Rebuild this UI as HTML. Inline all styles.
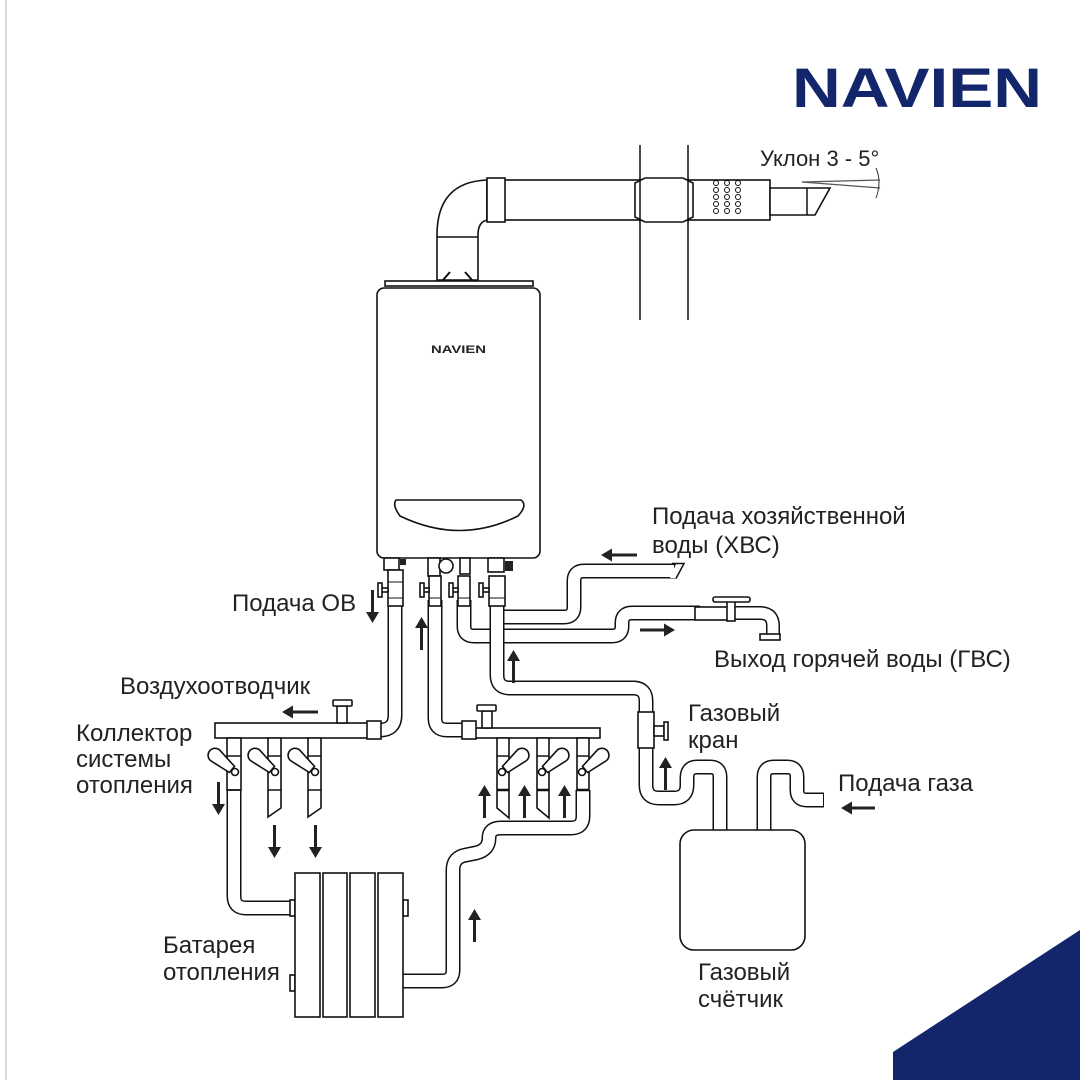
<!DOCTYPE html>
<html><head><meta charset="utf-8"><style>
html,body{margin:0;padding:0;background:#fff}
svg{display:block}
text{font-family:"Liberation Sans",sans-serif;fill:#222}
.po{fill:none;stroke:#111;stroke-width:15;stroke-linejoin:round}
.pi{fill:none;stroke:#fff;stroke-width:12;stroke-linejoin:round}
.l{fill:#fff;stroke:#111;stroke-width:1.6}
.ar{fill:#222}
</style></head><body>
<svg width="1080" height="1080" viewBox="0 0 1080 1080" xmlns="http://www.w3.org/2000/svg">
<line x1="6" y1="0" x2="6" y2="1080" stroke="#ccc" stroke-width="1.5"/>
<polygon points="1080,930 1080,1080 893,1080 893,1052" fill="#13266b"/>
<text x="792" y="107" font-size="56" font-weight="bold" style="fill:#13266b" textLength="250" lengthAdjust="spacingAndGlyphs">NAVIEN</text>

<!-- chimney -->
<line x1="640" y1="145" x2="640" y2="320" stroke="#111" stroke-width="1.5"/>
<line x1="688" y1="145" x2="688" y2="320" stroke="#111" stroke-width="1.5"/>
<path class="l" d="M437,280 L437,235 Q437,182 487,180 L487,220 Q478,222 478,235 L478,280 Z"/>
<line x1="437" y1="237" x2="478" y2="237" stroke="#111" stroke-width="1.5"/>
<rect class="l" x="487" y="180" width="283" height="40"/>
<rect class="l" x="487" y="178" width="18" height="44"/>
<path class="l" d="M635,183 L645,178 L683,178 L693,183 L693,217 L683,222 L645,222 L635,217 Z"/>
<line x1="640" y1="178" x2="640" y2="222" stroke="#111" stroke-width="1.5"/>
<line x1="688" y1="178" x2="688" y2="222" stroke="#111" stroke-width="1.5"/>
<g fill="none" stroke="#111" stroke-width="1">
<circle cx="716" cy="183" r="2.5"/><circle cx="727" cy="183" r="2.5"/><circle cx="738" cy="183" r="2.5"/>
<circle cx="716" cy="190" r="2.5"/><circle cx="727" cy="190" r="2.5"/><circle cx="738" cy="190" r="2.5"/>
<circle cx="716" cy="197" r="2.5"/><circle cx="727" cy="197" r="2.5"/><circle cx="738" cy="197" r="2.5"/>
<circle cx="716" cy="204" r="2.5"/><circle cx="727" cy="204" r="2.5"/><circle cx="738" cy="204" r="2.5"/>
<circle cx="716" cy="211" r="2.5"/><circle cx="727" cy="211" r="2.5"/><circle cx="738" cy="211" r="2.5"/>
<circle cx="787" cy="194" r="2"/><circle cx="792" cy="194" r="2"/><circle cx="787" cy="200" r="2"/><circle cx="792" cy="200" r="2"/><circle cx="787" cy="206" r="2"/><circle cx="792" cy="206" r="2"/>
</g>
<path class="l" d="M770,188 L830,188 L815,215 L770,215 Z"/>
<line x1="807" y1="188" x2="807" y2="215" stroke="#111" stroke-width="1.5"/>
<line x1="802" y1="182" x2="880" y2="180" stroke="#555" stroke-width="1.2"/>
<line x1="802" y1="182" x2="880" y2="188" stroke="#555" stroke-width="1.2"/>
<path d="M876,168 Q882,182 876,198" fill="none" stroke="#333" stroke-width="1"/>
<text x="760" y="166" font-size="22">Уклон 3 - 5°</text>

<!-- boiler -->
<path d="M443,280 L450,272 M472,280 L465,272" fill="none" stroke="#111" stroke-width="2"/>
<rect class="l" x="385" y="281" width="148" height="5"/>
<rect class="l" x="377" y="288" width="163" height="270" rx="7"/>
<text x="431" y="353" font-size="11" font-weight="bold" textLength="55" lengthAdjust="spacingAndGlyphs">NAVIEN</text>
<path class="l" d="M396,500 L521,500 Q528,505 518,516 Q460,545 400,516 Q392,505 396,500 Z"/>
<rect class="l" x="384" y="558" width="15" height="12"/>
<rect class="l" x="428" y="558" width="12" height="18"/>
<circle cx="446" cy="566" r="7" class="l"/>
<rect class="l" x="460" y="558" width="10" height="16"/>
<rect class="l" x="488" y="558" width="16" height="14"/>
<rect x="505" y="561" width="8" height="10" fill="#222"/>
<rect x="400" y="559" width="6" height="6" fill="#222"/>

<!-- pipes -->
<path class="po" d="M395,600 L395,715 Q395,730 380,730 L372,730"/><path class="pi" d="M395,600 L395,715 Q395,730 380,730 L372,730"/>
<path class="po" d="M435,600 L435,718 Q435,730 447,730 L462,730"/><path class="pi" d="M435,600 L435,718 Q435,730 447,730 L462,730"/>
<path class="po" d="M464,600 L464,626 Q464,636 474,636 L612,636 Q622,636 622,626 L622,623 Q622,613 632,613 L700,613"/><path class="pi" d="M464,600 L464,626 Q464,636 474,636 L612,636 Q622,636 622,626 L622,623 Q622,613 632,613 L700,613"/>
<path class="po" d="M500,617 L564,617 Q574,617 574,607 L574,581 Q574,571 584,571 L676,571"/><path class="pi" d="M500,617 L564,617 Q574,617 574,607 L574,581 Q574,571 584,571 L674,571"/>
<path class="po" d="M497,600 L497,675 Q497,688 510,688 L633,688 Q646,688 646,701 L646,785 Q646,798 659,798 L674,798 Q687,798 687,785 L687,778 Q687,767 697,767 L710,767 Q720,767 720,777 L720,832"/>
<path class="pi" d="M497,598 L497,675 Q497,688 510,688 L633,688 Q646,688 646,701 L646,785 Q646,798 659,798 L674,798 Q687,798 687,785 L687,778 Q687,767 697,767 L710,767 Q720,767 720,777 L720,834"/>
<path class="po" d="M764,832 L764,777 Q764,767 774,767 L787,767 Q797,767 797,777 L797,790 Q797,800 807,800 L824,800"/><path class="pi" d="M764,834 L764,777 Q764,767 774,767 L787,767 Q797,767 797,777 L797,790 Q797,800 807,800 L823,800"/>
<path class="po" d="M234,790 L234,896 Q234,908 246,908 L295,908"/><path class="pi" d="M234,788 L234,896 Q234,908 246,908 L297,908"/>
<path class="po" d="M403,981 L442,981 Q453,981 453,970 L453,870 Q453,857 466,855 L476,853 Q489,850 489,838 Q489,828 501,828 L571,828 Q583,828 583,816 L583,790"/>
<path class="pi" d="M401,981 L442,981 Q453,981 453,970 L453,870 Q453,857 466,855 L476,853 Q489,850 489,838 Q489,828 501,828 L571,828 Q583,828 583,816 L583,788"/>
<polygon points="676,564 684,564 676,578 670,578" fill="#fff"/>
<path d="M672,563.5 L684,563.5 L676,578.5" fill="none" stroke="#111" stroke-width="1.5"/>

<!-- boiler valves -->
<g>
<rect class="l" x="388" y="570" width="15" height="36"/>
<line x1="388" y1="582" x2="403" y2="582" stroke="#111"/><line x1="388" y1="598" x2="403" y2="598" stroke="#111"/>
<rect class="l" x="380" y="588" width="8" height="4"/><rect class="l" x="378" y="583" width="4" height="14"/>
<rect class="l" x="429" y="576" width="12" height="30"/>
<line x1="429" y1="598" x2="441" y2="598" stroke="#111"/>
<rect class="l" x="422" y="588" width="7" height="4"/><rect class="l" x="420" y="583" width="4" height="14"/>
<rect class="l" x="458" y="576" width="12" height="30"/>
<line x1="458" y1="598" x2="470" y2="598" stroke="#111"/>
<rect class="l" x="451" y="588" width="7" height="4"/><rect class="l" x="449" y="583" width="4" height="14"/>
<rect class="l" x="489" y="576" width="16" height="30"/>
<line x1="489" y1="598" x2="505" y2="598" stroke="#111"/>
<rect class="l" x="483" y="588" width="6" height="4"/><rect class="l" x="479" y="583" width="4" height="14"/>
</g>

<!-- faucet -->
<path d="M727,613 L760,613 Q773,613 773,626 L773,635" fill="none" stroke="#111" stroke-width="14"/>
<path d="M727,613 L760,613 Q773,613 773,626 L773,636" fill="none" stroke="#fff" stroke-width="11"/>
<rect class="l" x="695" y="607" width="33" height="13"/>
<rect class="l" x="727" y="601" width="8" height="20"/>
<rect class="l" x="713" y="597" width="37" height="5" rx="2"/>
<rect class="l" x="760" y="634" width="20" height="6"/>

<rect class="l" x="638" y="712" width="16" height="36"/>
<rect class="l" x="654" y="726" width="10" height="10"/>
<rect class="l" x="664" y="722" width="4" height="18"/>
<rect class="l" x="680" y="830" width="125" height="120" rx="14"/>

<!-- collectors -->
<rect class="l" x="215" y="723" width="160" height="15"/>
<rect class="l" x="367" y="721" width="14" height="18"/>
<rect class="l" x="337" y="706" width="10" height="17"/>
<rect class="l" x="333" y="700" width="19" height="6" rx="1"/>
<rect class="l" x="475" y="728" width="125" height="10"/>
<rect class="l" x="462" y="721" width="14" height="18"/>
<rect class="l" x="482" y="711" width="10" height="17"/>
<rect class="l" x="477" y="705" width="19" height="6" rx="1"/>
<g>
<rect class="l" x="227" y="738" width="14" height="52"/>
<path class="l" d="M268,738 L281,738 L281,808 L268,817 Z"/>
<path class="l" d="M308,738 L321,738 L321,808 L308,817 Z"/>
<path class="l" d="M497,738 L509,738 L509,818 L497,808 Z"/>
<path class="l" d="M537,738 L549,738 L549,818 L537,808 Z"/>
<rect class="l" x="577" y="738" width="12" height="52"/>
<line x1="227" y1="756" x2="241" y2="756" stroke="#111" stroke-width="1.5"/><line x1="227" y1="790" x2="241" y2="790" stroke="#111" stroke-width="1.5"/>
<line x1="268" y1="756" x2="281" y2="756" stroke="#111" stroke-width="1.5"/><line x1="268" y1="790" x2="281" y2="790" stroke="#111" stroke-width="1.5"/>
<line x1="308" y1="756" x2="321" y2="756" stroke="#111" stroke-width="1.5"/><line x1="308" y1="790" x2="321" y2="790" stroke="#111" stroke-width="1.5"/>
<line x1="497" y1="756" x2="509" y2="756" stroke="#111" stroke-width="1.5"/><line x1="497" y1="790" x2="509" y2="790" stroke="#111" stroke-width="2.5"/>
<line x1="537" y1="756" x2="549" y2="756" stroke="#111" stroke-width="1.5"/><line x1="537" y1="790" x2="549" y2="790" stroke="#111" stroke-width="2.5"/>
<line x1="577" y1="756" x2="589" y2="756" stroke="#111" stroke-width="1.5"/><line x1="577" y1="790" x2="589" y2="790" stroke="#111" stroke-width="2.5"/>
<g class="l">
<path transform="translate(235,772) rotate(40)" d="M-4,-4 L-26,-7 A7,7 0 0 0 -26,7 L-4,4 Z"/><circle cx="235" cy="772" r="3.5"/>
<path transform="translate(275,772) rotate(40)" d="M-4,-4 L-26,-7 A7,7 0 0 0 -26,7 L-4,4 Z"/><circle cx="275" cy="772" r="3.5"/>
<path transform="translate(315,772) rotate(40)" d="M-4,-4 L-26,-7 A7,7 0 0 0 -26,7 L-4,4 Z"/><circle cx="315" cy="772" r="3.5"/>
<path transform="translate(502,772) rotate(140)" d="M-4,-4 L-26,-7 A7,7 0 0 0 -26,7 L-4,4 Z"/><circle cx="502" cy="772" r="3.5"/>
<path transform="translate(542,772) rotate(140)" d="M-4,-4 L-26,-7 A7,7 0 0 0 -26,7 L-4,4 Z"/><circle cx="542" cy="772" r="3.5"/>
<path transform="translate(582,772) rotate(140)" d="M-4,-4 L-26,-7 A7,7 0 0 0 -26,7 L-4,4 Z"/><circle cx="582" cy="772" r="3.5"/>
</g>
</g>

<!-- radiator -->
<rect class="l" x="290" y="900" width="5" height="16"/>
<rect class="l" x="290" y="975" width="5" height="16"/>
<rect class="l" x="403" y="900" width="5" height="16"/>
<rect class="l" x="295" y="873" width="25" height="144"/>
<rect class="l" x="323" y="873" width="24" height="144"/>
<rect class="l" x="350" y="873" width="25" height="144"/>
<rect class="l" x="378" y="873" width="25" height="144"/>

<!-- arrows -->
<g class="ar">
<path d="M371,590 h3 v22 h5 l-6.5,11 l-6.5,-11 h5 z"/>
<path d="M420,650 h3 v-22 h5 l-6.5,-11 l-6.5,11 h5 z"/>
<path d="M512,683 h3 v-22 h5 l-6.5,-11 l-6.5,11 h5 z"/>
<path d="M664,790 h3 v-22 h5 l-6.5,-11 l-6.5,11 h5 z"/>
<path d="M473,942 h3 v-22 h5 l-6.5,-11 l-6.5,11 h5 z"/>
<path d="M483,818 h3 v-22 h5 l-6.5,-11 l-6.5,11 h5 z"/>
<path d="M523,818 h3 v-22 h5 l-6.5,-11 l-6.5,11 h5 z"/>
<path d="M563,818 h3 v-22 h5 l-6.5,-11 l-6.5,11 h5 z"/>
<path d="M217,782 h3 v22 h5 l-6.5,11 l-6.5,-11 h5 z"/>
<path d="M273,825 h3 v22 h5 l-6.5,11 l-6.5,-11 h5 z"/>
<path d="M314,825 h3 v22 h5 l-6.5,11 l-6.5,-11 h5 z"/>
<path d="M637,553.5 v3 h-25 v5 l-11,-6.5 l11,-6.5 v5 z"/>
<path d="M318,710.5 v3 h-25 v5 l-11,-6.5 l11,-6.5 v5 z"/>
<path d="M875,806.5 v3 h-23 v5 l-11,-6.5 l11,-6.5 v5 z"/>
<path d="M640,628.5 v3 h24 v5 l11,-6.5 l-11,-6.5 v5 z"/>
</g>

<g font-size="24">
<text x="652" y="524">Подача хозяйственной</text>
<text x="652" y="553">воды (ХВС)</text>
<text x="232" y="611">Подача ОВ</text>
<text x="714" y="667">Выход горячей воды (ГВС)</text>
<text x="120" y="694">Воздухоотводчик</text>
<text x="76" y="741">Коллектор</text>
<text x="76" y="767">системы</text>
<text x="76" y="793">отопления</text>
<text x="688" y="721">Газовый</text>
<text x="688" y="748">кран</text>
<text x="838" y="791">Подача газа</text>
<text x="163" y="953">Батарея</text>
<text x="163" y="980">отопления</text>
<text x="698" y="980">Газовый</text>
<text x="698" y="1007">счётчик</text>
</g>
</svg>
</body></html>
